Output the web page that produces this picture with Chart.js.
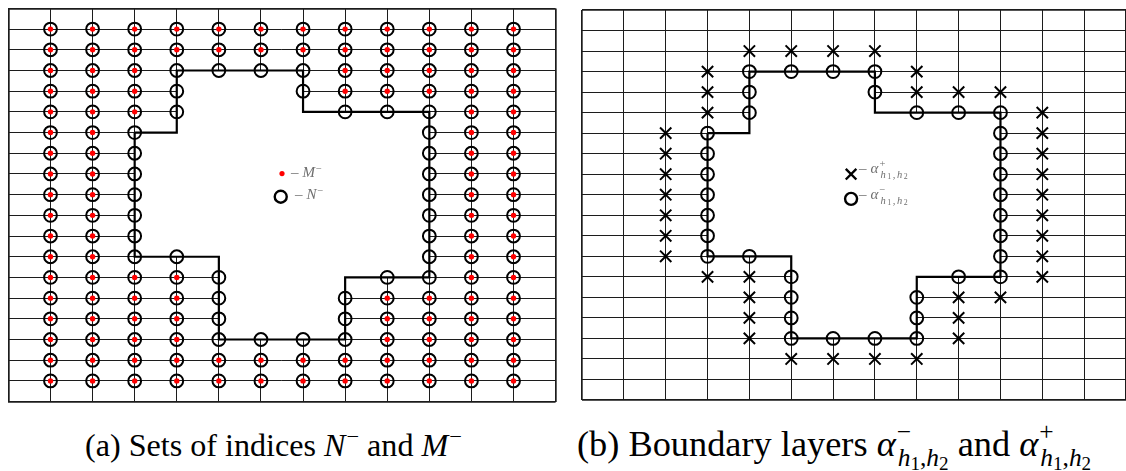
<!DOCTYPE html>
<html>
<head>
<meta charset="utf-8">
<script src="https://cdn.jsdelivr.net/npm/chart.js@4.4.1/dist/chart.umd.min.js"></script>
<style>
  html, body { margin: 0; padding: 0; background: #fff; }
  body { width: 1126px; height: 471px; overflow: hidden; position: relative; }
  canvas { position: absolute; top: 0; }
  #panelA { left: 0; }
  #panelB { left: 572px; }
  .txt { position: absolute; white-space: nowrap; line-height: 1;
         font-family: "Liberation Serif", "Times New Roman", "DejaVu Serif", serif; }
  .cap { color: #000; font-size: 31px; }
  .leg { color: #6f6f6f; font-size: 15px; }
  .dash { margin-right: 4px; }
  .it { font-style: italic; }
  .sp { position: relative; font-size: 0.7em; top: -0.55em; margin-left: 1px; }
  .z  { display: inline-block; width: 0; position: relative; font-size: 0.7em; top: -0.62em; margin-left: 1px; }
  .sb { position: relative; font-size: 0.7em; top: 0.42em; margin-left: 1px; }
  .leg .sb { letter-spacing: 1.6px; }
  .s2 { position: relative; font-size: 0.75em; top: 0.2em; }
</style>
</head>
<body>
<canvas id="panelA" width="564" height="410"></canvas>
<canvas id="panelB" width="564" height="410"></canvas>

<div class="txt leg" id="legM"><span class="dash">–</span><span class="it">M</span><span class="sp">−</span></div>
<div class="txt leg" id="legN"><span class="dash">–</span><span class="it">N</span><span class="sp">−</span></div>
<div class="txt leg" id="legAp"><span class="dash">–</span><span class="it">α</span><span class="z">+</span><span class="sb"><span class="it">h</span><span class="s2">1</span>,<span class="it">h</span><span class="s2">2</span></span></div>
<div class="txt leg" id="legAm"><span class="dash">–</span><span class="it">α</span><span class="z">−</span><span class="sb"><span class="it">h</span><span class="s2">1</span>,<span class="it">h</span><span class="s2">2</span></span></div>

<div class="txt cap" id="capA">(a) Sets of indices <span class="it">N</span><span class="sp">−</span> and <span class="it">M</span><span class="sp">−</span></div>
<div class="txt cap" id="capB">(b) Boundary layers <span class="it">α</span><span class="z">−</span><span class="sb"><span class="it">h</span><span class="s2">1</span>,<span class="it">h</span><span class="s2">2</span></span> and <span class="it">α</span><span class="z">+</span><span class="sb"><span class="it">h</span><span class="s2">1</span>,<span class="it">h</span><span class="s2">2</span></span></div>

<script>
// Mesh lines: column indices (x) and row indices (y, counted from the top).
// The first and last entries are the frame of each panel.
const X_TICKS = [0, 1, 2, 3, 4, 5, 6, 7, 8, 9, 10, 11, 12, 13];
const Y_TICKS = [0, 1, 2, 3, 4, 5, 6, 7, 8, 9, 10, 11, 12, 13, 14, 15, 16, 17, 18, 19];

// M^- : interior mesh nodes outside the obstacle, listed row by row (rows 1..18).
const M_MINUS_BY_ROW = [
  [1, 2, 3, 4, 5, 6, 7, 8, 9, 10, 11, 12],   // row 1
  [1, 2, 3, 4, 5, 6, 7, 8, 9, 10, 11, 12],   // row 2
  [1, 2, 3, 8, 9, 10, 11, 12],               // row 3
  [1, 2, 3, 8, 9, 10, 11, 12],               // row 4
  [1, 2, 3, 11, 12],                         // row 5
  [1, 2, 11, 12],                            // row 6
  [1, 2, 11, 12],                            // row 7
  [1, 2, 11, 12],                            // row 8
  [1, 2, 11, 12],                            // row 9
  [1, 2, 11, 12],                            // row 10
  [1, 2, 11, 12],                            // row 11
  [1, 2, 11, 12],                            // row 12
  [1, 2, 3, 4, 11, 12],                      // row 13
  [1, 2, 3, 4, 9, 10, 11, 12],               // row 14
  [1, 2, 3, 4, 9, 10, 11, 12],               // row 15
  [1, 2, 3, 4, 9, 10, 11, 12],               // row 16
  [1, 2, 3, 4, 5, 6, 7, 8, 9, 10, 11, 12],   // row 17
  [1, 2, 3, 4, 5, 6, 7, 8, 9, 10, 11, 12]    // row 18
];

// alpha^- : nodes lying on the obstacle boundary  [column, row]
const ALPHA_MINUS = [
  [4, 3], [5, 3], [6, 3], [7, 3],
  [4, 4], [7, 4],
  [4, 5], [8, 5], [9, 5], [10, 5],
  [3, 6], [10, 6], [3, 7], [10, 7], [3, 8], [10, 8], [3, 9], [10, 9],
  [3, 10], [10, 10], [3, 11], [10, 11],
  [3, 12], [4, 12], [10, 12],
  [5, 13], [9, 13], [10, 13],
  [5, 14], [8, 14], [5, 15], [8, 15],
  [5, 16], [6, 16], [7, 16], [8, 16]
];

// alpha^+ : first layer of nodes outside the boundary  [column, row]
const ALPHA_PLUS = [
  [4, 2], [5, 2], [6, 2], [7, 2],
  [3, 3], [8, 3],
  [3, 4], [8, 4], [9, 4], [10, 4],
  [3, 5], [11, 5],
  [2, 6], [11, 6], [2, 7], [11, 7], [2, 8], [11, 8], [2, 9], [11, 9],
  [2, 10], [11, 10], [2, 11], [11, 11], [2, 12], [11, 12],
  [3, 13], [4, 13], [11, 13],
  [4, 14], [9, 14], [10, 14],
  [4, 15], [9, 15],
  [4, 16], [9, 16],
  [5, 17], [6, 17], [7, 17], [8, 17]
];

// Obstacle outline (closed polygon through mesh nodes)  [column, row]
const OBSTACLE = [
  [3, 6], [4, 6], [4, 3], [7, 3], [7, 5], [10, 5], [10, 13],
  [8, 13], [8, 16], [5, 16], [5, 12], [3, 12], [3, 6]
];

const toPts = arr => arr.map(([x, y]) => ({ x, y }));
const mMinusPts = M_MINUS_BY_ROW.flatMap((cols, r) => cols.map(c => ({ x: c, y: r + 1 })));
const nMinusPts = mMinusPts.concat(toPts(ALPHA_MINUS));

const GRID_COLOR = '#1c1c1c';

function scaleCfg(ticks, reverse) {
  const first = ticks[0], last = ticks[ticks.length - 1];
  return {
    type: 'linear', min: first, max: last, reverse,
    ticks: { display: false },
    afterBuildTicks: s => { s.ticks = ticks.map(v => ({ value: v })); },
    grid: {
      color: GRID_COLOR,
      lineWidth: c => (c.tick && (c.tick.value === first || c.tick.value === last)) ? 1.7 : 1,
      drawTicks: false
    },
    border: { display: false }
  };
}

// In-plot key: marker drawn at a mesh position through the chart scales
const keyPlugin = {
  id: 'keyMarkers',
  afterDatasetsDraw(chart, args, opts) {
    const { ctx, scales: { x, y } } = chart;
    (opts.items || []).forEach(it => {
      ctx.save();
      ctx.lineWidth = it.borderWidth;
      ctx.strokeStyle = it.stroke;
      ctx.fillStyle = it.fill;
      Chart.helpers.drawPoint(ctx, {
        pointStyle: it.style, rotation: 0, radius: it.radius, borderWidth: it.borderWidth
      }, x.getPixelForValue(it.x), y.getPixelForValue(it.y));
      ctx.restore();
    });
  }
};

function obstacleDataset() {
  return {
    data: toPts(OBSTACLE),
    showLine: true,
    fill: 'shape',
    backgroundColor: '#ffffff',
    borderColor: '#000000',
    borderWidth: 2.2,
    pointRadius: 0,
    tension: 0
  };
}

function makeChart(id, datasets, padding, items) {
  return new Chart(document.getElementById(id), {
    type: 'scatter',
    data: { datasets },
    options: {
      responsive: false,
      animation: false,
      events: [],
      layout: { padding },
      plugins: {
        legend: { display: false },
        tooltip: { enabled: false },
        keyMarkers: { items }
      },
      scales: { x: scaleCfg(X_TICKS, false), y: scaleCfg(Y_TICKS, true) }
    },
    plugins: [keyPlugin]
  });
}

// (a) sets of indices N^- and M^-
makeChart('panelA', [
  { data: mMinusPts, pointStyle: 'circle', pointRadius: 2.7,
    pointBackgroundColor: '#ff0000', pointBorderWidth: 0 },
  { data: nMinusPts, pointStyle: 'circle', pointRadius: 6.4,
    pointBackgroundColor: 'rgba(0,0,0,0)', pointBorderColor: '#000', pointBorderWidth: 2 },
  obstacleDataset()
], { left: 7.8, right: 7.8, top: 4, bottom: 6 }, [
  { style: 'circle', x: 6.5, y: 7.98, radius: 2.6, borderWidth: 0, fill: '#ff0000', stroke: '#ff0000' },
  { style: 'circle', x: 6.47, y: 9.1, radius: 6, borderWidth: 2.4, fill: 'rgba(0,0,0,0)', stroke: '#000' }
]);

// (b) boundary layers alpha^- and alpha^+
makeChart('panelB', [
  { data: toPts(ALPHA_PLUS), pointStyle: 'crossRot', pointRadius: 8,
    pointBorderColor: '#000', pointBorderWidth: 2 },
  { data: toPts(ALPHA_MINUS), pointStyle: 'circle', pointRadius: 6.4,
    pointBackgroundColor: 'rgba(0,0,0,0)', pointBorderColor: '#000', pointBorderWidth: 2 },
  obstacleDataset()
], { left: 7.5, right: 7.7, top: 1, bottom: 8 }, [
  { style: 'crossRot', x: 6.43, y: 8.0, radius: 7.5, borderWidth: 2.4, fill: 'rgba(0,0,0,0)', stroke: '#000' },
  { style: 'circle', x: 6.43, y: 9.2, radius: 6, borderWidth: 2.4, fill: 'rgba(0,0,0,0)', stroke: '#000' }
]);

// Text placement: left edge and baseline in page pixels
function place(id, left, baseline, width) {
  const el = document.getElementById(id);
  if (width) {
    const f = parseFloat(getComputedStyle(el).fontSize);
    const w = el.getBoundingClientRect().width;
    el.style.fontSize = (f * width / w).toFixed(2) + 'px';
  }
  const fs = parseFloat(getComputedStyle(el).fontSize);
  el.style.left = left + 'px';
  el.style.top = (baseline - 0.8375 * fs) + 'px';
}
place('legM', 291, 178);
place('legN', 295, 200);
place('legAp', 859, 174);
place('legAm', 859, 200);
place('capA', 85, 456, 377);
place('capB', 577, 456, 515);
</script>
</body>
</html>
